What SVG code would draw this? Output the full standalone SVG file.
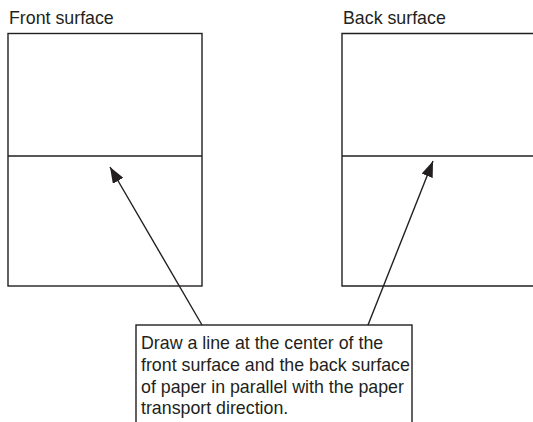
<svg xmlns="http://www.w3.org/2000/svg" width="533" height="422" viewBox="0 0 533 422">
<style>
.ln{stroke:#231f20;stroke-width:1.4;fill:none}
.lbl{font-family:"Liberation Sans",Arial,sans-serif;font-size:17.8px;fill:#231f20}
</style>
<defs>
<marker id="ah" markerWidth="16" markerHeight="12" refX="16" refY="6" orient="auto" markerUnits="userSpaceOnUse">
<path d="M0,0 L16,6 L0,12 Z" fill="#231f20"/>
</marker>
</defs>
<rect width="533" height="422" fill="#fff"/>
<g id="front">
<text class="lbl" x="9" y="24">Front surface</text>
<rect class="ln" x="8" y="33.5" width="194" height="252.5"/>
<line class="ln" x1="8" y1="156" x2="202" y2="156"/>
</g>
<g id="back">
<text class="lbl" x="343" y="24">Back surface</text>
<path class="ln" d="M533,33.5 H342 V286 H533"/>
<line class="ln" x1="342" y1="156" x2="533" y2="156"/>
</g>
<g id="note">
<rect x="136" y="325" width="276" height="100" fill="#fff" stroke="#231f20" stroke-width="1.4"/>
<text class="lbl" x="141" y="349">Draw a line at the center of the</text>
<text class="lbl" x="141" y="371">front surface and the back surface</text>
<text class="lbl" x="141" y="393">of paper in parallel with the paper</text>
<text class="lbl" x="141" y="414">transport direction.</text>
</g>
<g id="connectors">
<line class="ln" x1="202" y1="325" x2="110" y2="167" marker-end="url(#ah)"/>
<line class="ln" x1="368" y1="325" x2="433" y2="161" marker-end="url(#ah)"/>
</g>
</svg>
